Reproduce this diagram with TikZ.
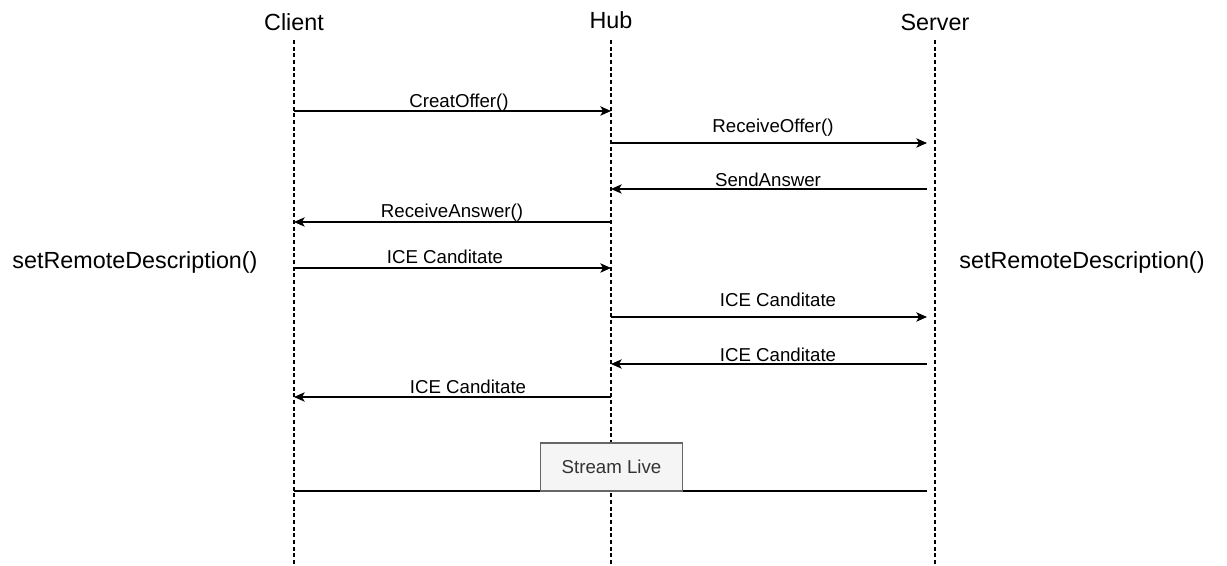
\documentclass[tikz,border=0pt]{standalone}
\usepackage{fontspec}
\setmainfont{Liberation Sans}
\usetikzlibrary{arrows.meta, positioning}

\begin{document}
\begin{tikzpicture}[x=0.75pt, y=-0.75pt,
    actor/.style = {font=\fontsize{17.5}{20}\selectfont, inner sep=0pt},
    lifeline/.style = {draw, dash pattern=on 3pt off 2pt, line width=0.8pt},
    msg/.style = {-{Stealth[length=8pt, width=7pt, inset=2pt]}, line width=0.9pt},
    plain/.style = {},
    toserver/.style = {shorten >=6pt},
    fromserver/.style = {shorten <=6pt},
    msglabel/.style = {font=\fontsize{14}{16}\selectfont, anchor=base, inner sep=0pt},
    livebox/.style = {draw=black!60, fill=black!4, line width=0.8pt, outer sep=0pt,
      minimum width=107pt, minimum height=36pt, text=black!80,
      font=\fontsize{14}{16}\selectfont}]
  \useasboundingbox (0,0) rectangle (1227,566);

  % participants and their lifelines
  \node[actor] (client) at (294,22) {Client};
  \node[actor] (hub) at (611,20) {Hub};
  \node[actor] (server) at (935,22) {Server};
  \coordinate (top) at (0,40);
  \coordinate (bottom) at (0,564);
  \foreach \p in {client,hub,server}
    \draw[lifeline] (\p |- top) -- (\p |- bottom);

  \node[actor] (remoteL) at (135,262) {setRemoteDescription()};
  \node[actor] (remoteR) at (1082,262) {setRemoteDescription()};

  % messages: row y / from / to / label x / label y / style / text
  \foreach \y/\from/\to/\lx/\ly/\opt/\txt [count=\i] in {
      111/client/hub/459/108/plain/CreatOffer(),
      143/hub/server/773/133/toserver/ReceiveOffer(),
      189/server/hub/768/187/fromserver/SendAnswer,
      222/hub/client/452/218/plain/ReceiveAnswer(),
      268/client/hub/445/264/plain/ICE Canditate,
      317/hub/server/778/307/toserver/ICE Canditate,
      364/server/hub/778/361/fromserver/ICE Canditate,
      397/hub/client/468/393/plain/ICE Canditate}
  {
    \coordinate (r\i) at (0,\y);
    \draw[msg, \opt] (\from |- r\i) -- (\to |- r\i);
    \node[msglabel] (l\i) at (\lx,\ly) {\txt};
  }

  % stream is live between all three
  \node[livebox] (live) at (611.5,467) {Stream Live};
  \draw[line width=0.9pt] (client |- live.south west) -- (live.south west);
  \draw[line width=0.9pt, shorten >=6pt] (live.south east) -- (server |- live.south east);
\end{tikzpicture}
\end{document}
